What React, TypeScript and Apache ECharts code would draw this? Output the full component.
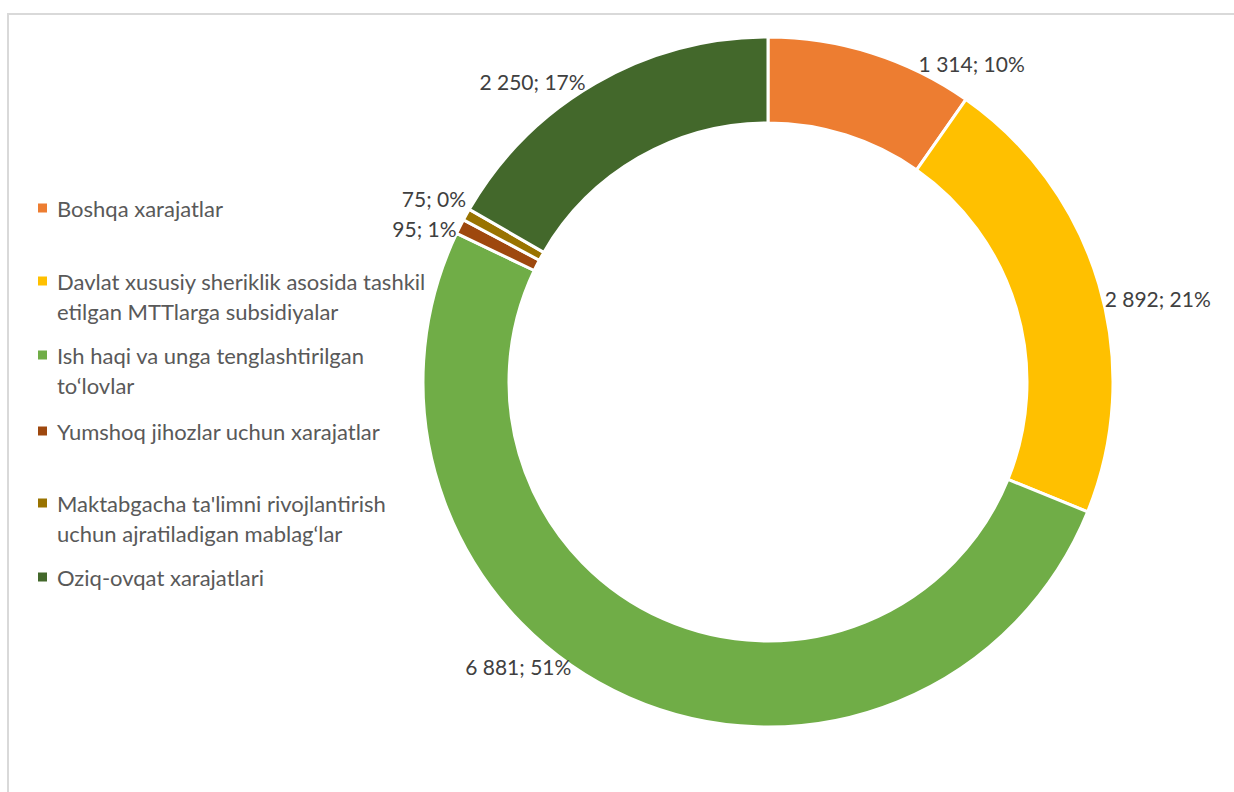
import React, { useEffect, useRef } from "react";
import * as echarts from "echarts";

const categories = [
  "Boshqa xarajatlar",
  "Davlat xususiy sheriklik asosida tashkil etilgan MTTlarga subsidiyalar",
  "Ish haqi va unga tenglashtirilgan to‘lovlar",
  "Yumshoq jihozlar uchun xarajatlar",
  "Maktabgacha ta'limni rivojlantirish uchun ajratiladigan mablag‘lar",
  "Oziq-ovqat xarajatlari",
];
const legendLines = [
  ["Boshqa xarajatlar"],
  ["Davlat xususiy sheriklik asosida tashkil", "etilgan MTTlarga subsidiyalar"],
  ["Ish haqi va unga tenglashtirilgan", "to‘lovlar"],
  ["Yumshoq jihozlar uchun xarajatlar"],
  ["Maktabgacha ta'limni rivojlantirish", "uchun ajratiladigan mablag‘lar"],
  ["Oziq-ovqat xarajatlari"],
];
const values = [1314, 2892, 6881, 95, 75, 2250];
const percentLabels = ["10%", "21%", "51%", "1%", "0%", "17%"];

const colors = ["#ED7D31", "#FFC000", "#70AD47", "#9E480E", "#997300", "#43682B"];
const legendTops = [193, 266, 340, 416, 488, 562];
const labelOffsets = [
  [40, 16],
  [-5, 16],
  [-50, -37],
  [7, 5],
  [10, -13],
  [-2, 4],
];

const FONT = "Lato, 'Open Sans', sans-serif";

function fmt(n: number): string {
  return String(n).replace(/\B(?=(\d{3})+(?!\d))/g, " ");
}

export default function App() {
  const ref = useRef<HTMLDivElement>(null);
  useEffect(() => {
    if (!ref.current) return;
    const chart = echarts.init(ref.current, undefined, { renderer: "svg" });
    const legends = categories.map((name, i) => ({
      data: [name],
      orient: "vertical",
      left: 32,
      top: legendTops[i],
      itemWidth: 0,
      itemHeight: 0,
      selectedMode: false,
      padding: 0,
      formatter: () =>
        legendLines[i]
          .map((ln, k) => (k === 0 ? `{sq| }{sp|}{t|${ln}}` : `{ind|}{t|${ln}}`))
          .join("\n"),
      textStyle: {
        fontFamily: FONT,
        fontSize: 22,
        color: "#595959",
        lineHeight: 30,
        rich: {
          sq: { width: 9, height: 9, backgroundColor: colors[i], fontSize: 9, lineHeight: 9 },
          sp: { width: 10 },
          ind: { width: 19 },
          t: { fontFamily: FONT, fontSize: 22, color: "#595959", lineHeight: 30 },
        },
      },
    }));
    chart.setOption({
      animation: false,
      color: colors,
      graphic: [
        {
          type: "rect",
          shape: { x: 8, y: 14, width: 1300, height: 900 },
          style: { fill: "none", stroke: "#D9D9D9", lineWidth: 2 },
          silent: true,
        },
      ],
      legend: legends,
      series: [
        {
          type: "pie",
          center: [768, 382],
          radius: [259, 345],
          startAngle: 90,
          clockwise: true,
          avoidLabelOverlap: false,
          itemStyle: { borderColor: "#ffffff", borderWidth: 3 },
          label: {
            show: true,
            position: "outside",
            fontFamily: FONT,
            fontSize: 21,
            color: "#404040",
            formatter: (p: any) => `${fmt(p.value)}; ${percentLabels[p.dataIndex]}`,
          },
          labelLine: { show: false, length: 6, length2: 0 },
          labelLayout: (p: any) => ({
            dx: labelOffsets[p.dataIndex][0],
            dy: labelOffsets[p.dataIndex][1],
          }),
          data: categories.map((name, i) => ({ name, value: values[i] })),
        },
      ],
    });
    return () => chart.dispose();
  }, []);
  return (
    <div
      ref={ref}
      style={{ position: "absolute", left: 0, top: 0, width: 1234, height: 792 }}
    />
  );
}
